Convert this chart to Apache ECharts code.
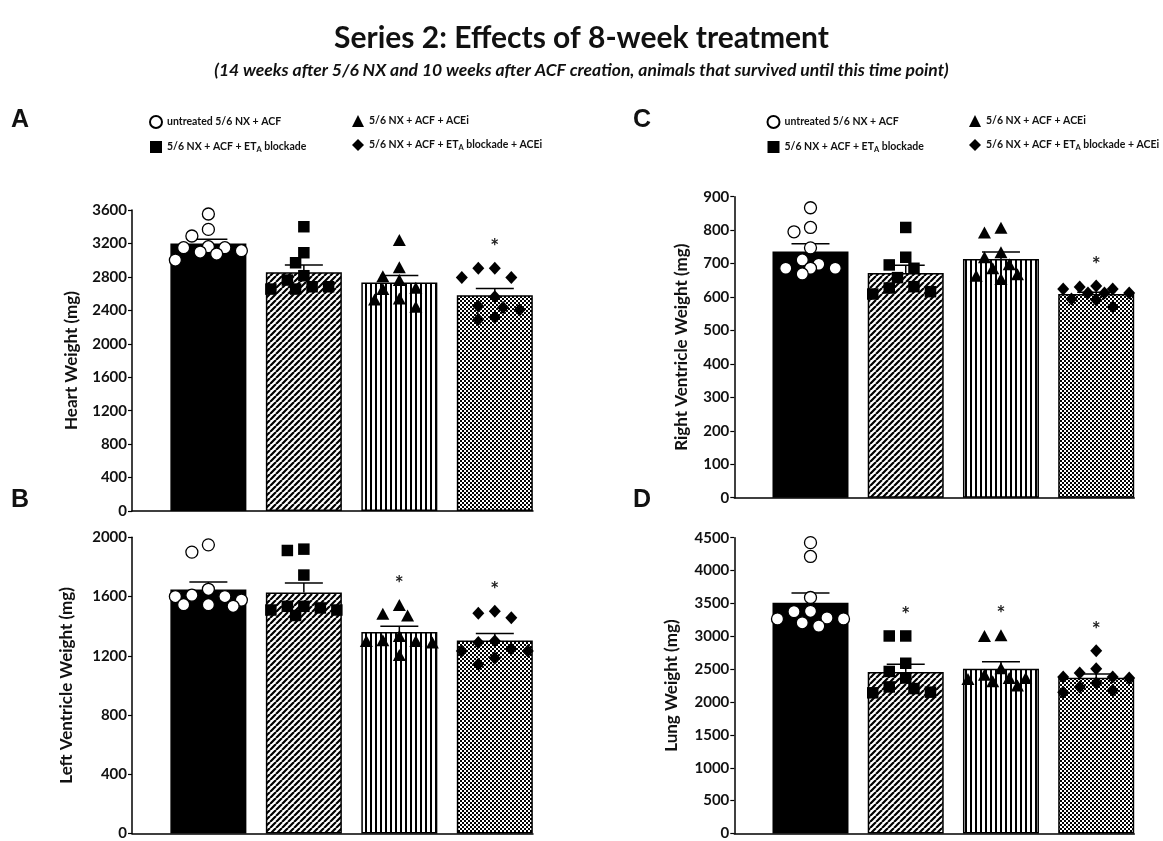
<!DOCTYPE html>
<html><head><meta charset="utf-8">
<script src="https://cdn.jsdelivr.net/npm/echarts@6/dist/echarts.min.js"></script>
<style>html,body{margin:0;padding:0;background:#fff}#c{width:1163px;height:841px}</style>
</head><body><div id="c"></div>
<script>
// ---------------- data ----------------
const groupNames = ['untreated 5/6 NX + ACF', '5/6 NX + ACF + ETA blockade', '5/6 NX + ACF + ACEi', '5/6 NX + ACF + ETA blockade + ACEi'];

const heartPoints = [
  [3552, 3368, 3289, 3161, 3149, 3149, 3113, 3097, 3073, 3001],
  [3400, 3089, 2969, 2814, 2762, 2682, 2682, 2654, 2654],
  [3241, 2914, 2809, 2762, 2670, 2654, 2542, 2530, 2443],
  [2902, 2902, 2794, 2794, 2562, 2450, 2434, 2403, 2315, 2291]
];
const heartMean = [3200, 2855, 2732, 2580];
const heartSem = [49, 86, 86, 82];
const heartSig = [0, 0, 0, 1];
const heartTicks = [0, 3600, 400];

const lvPoints = [
  [1949, 1900, 1649, 1609, 1600, 1600, 1576, 1545, 1545, 1534],
  [1920, 1911, 1745, 1534, 1534, 1523, 1509, 1509, 1472],
  [1543, 1483, 1472, 1334, 1305, 1299, 1299, 1290, 1205],
  [1501, 1487, 1456, 1299, 1290, 1245, 1232, 1232, 1183, 1143]
];
const lvMean = [1648, 1628, 1360, 1303];
const lvSem = [50, 63, 40, 47];
const lvSig = [0, 0, 1, 1];
const lvTicks = [0, 2000, 400];

const rvPoints = [
  [867, 808, 795, 747, 711, 698, 686, 686, 686, 669],
  [808, 719, 696, 686, 658, 631, 627, 616, 609],
  [807, 793, 734, 719, 698, 686, 668, 664, 654],
  [633, 630, 624, 624, 612, 612, 612, 594, 591, 570]
];
const rvMean = [736, 672, 714, 609];
const rvSem = [23, 23, 21, 5];
const rvSig = [0, 0, 0, 1];
const rvTicks = [0, 900, 100];

const lungPoints = [
  [4425, 4215, 3590, 3380, 3375, 3280, 3265, 3265, 3205, 3155],
  [3005, 3005, 2590, 2465, 2365, 2230, 2205, 2150, 2140],
  [3015, 3005, 2515, 2415, 2365, 2365, 2350, 2315, 2250],
  [2780, 2505, 2440, 2380, 2380, 2365, 2290, 2230, 2180, 2150]
];
const lungMean = [3510, 2458, 2508, 2368];
const lungSem = [147, 117, 103, 58];
const lungSig = [0, 1, 1, 1];
const lungTicks = [0, 4500, 500];

const axisNames = ['Heart Weight (mg)', 'Left Ventricle Weight (mg)', 'Right Ventricle Weight (mg)', 'Lung Weight (mg)'];
const panelLetters = ['A', 'B', 'C', 'D'];

// ---------------- layout / style ----------------
const FONT = 'Lato';
const panels = [
  { pts: heartPoints, mean: heartMean, sem: heartSem, sig: heartSig, ticks: heartTicks, name: axisNames[0], letter: panelLetters[0],
    grid: { left: 132, top: 210, width: 401, height: 301 }, nameGap: 52, letterPos: [11, 108] },
  { pts: lvPoints, mean: lvMean, sem: lvSem, sig: lvSig, ticks: lvTicks, name: axisNames[1], letter: panelLetters[1],
    grid: { left: 132, top: 537.3, width: 401, height: 300.4 }, nameGap: 57, letterPos: [11, 488] },
  { pts: rvPoints, mean: rvMean, sem: rvSem, sig: rvSig, ticks: rvTicks, name: axisNames[2], letter: panelLetters[2],
    grid: { left: 734.3, top: 196.7, width: 400, height: 301 }, nameGap: 44, letterPos: [633, 108] },
  { pts: lungPoints, mean: lungMean, sem: lungSem, sig: lungSig, ticks: lungTicks, name: axisNames[3], letter: panelLetters[3],
    grid: { left: 734.3, top: 537.7, width: 400, height: 300 }, nameGap: 54, letterPos: [633, 488] }
];

function makePattern(kind) {
  const c = document.createElement('canvas');
  const ctx = c.getContext('2d');
  if (kind === 'diag') {
    const s = 6; c.width = s; c.height = s;
    ctx.fillStyle = '#fff'; ctx.fillRect(0, 0, s, s);
    ctx.strokeStyle = '#000'; ctx.lineWidth = 2.2;
    ctx.beginPath();
    for (const x0 of [-s, 0, s]) { ctx.moveTo(x0, s); ctx.lineTo(x0 + s, 0); }
    ctx.stroke();
  } else if (kind === 'vert') {
    c.width = 5; c.height = 5;
    ctx.fillStyle = '#fff'; ctx.fillRect(0, 0, 5, 5);
    ctx.fillStyle = '#000'; ctx.fillRect(0, 0, 2, 5);
  } else {
    c.width = 4; c.height = 4;
    ctx.fillStyle = '#fff'; ctx.fillRect(0, 0, 4, 4);
    ctx.fillStyle = '#000'; ctx.fillRect(0, 0, 2, 2); ctx.fillRect(2, 2, 2, 2);
  }
  return { image: c, repeat: 'repeat' };
}
const barFills = ['#000', makePattern('diag'), makePattern('vert'), makePattern('check')];
const symbols = ['circle', 'rect', 'triangle', 'diamond'];
const symbolSizes = [12, 11.5, [13, 12], [12, 13]];
const symbolFill = ['#fff', '#000', '#000', '#000'];

const chart = echarts.init(document.getElementById('c'), null, { renderer: 'canvas' });

function buildSeries(scatterData) {
  const series = [];
  panels.forEach((p, pi) => {
    series.push({
      type: 'bar', name: 'bars' + pi, xAxisIndex: pi, yAxisIndex: pi, barWidth: 76, z: 2,
      data: p.mean.map((m, g) => ({ value: [g, m], itemStyle: { color: barFills[g], borderColor: '#000', borderWidth: 1.5 } }))
    });
    series.push({
      type: 'custom', name: 'err' + pi, xAxisIndex: pi, yAxisIndex: pi, z: 3,
      encode: { x: 0, y: 1 },
      data: p.mean.map((m, g) => [g, m, p.sem[g]]),
      renderItem: (params, api) => {
        const x = api.value(0), m = api.value(1), s = api.value(2);
        const b = api.coord([x, m]), t = api.coord([x, m + s]);
        return { type: 'group', children: [
          { type: 'line', shape: { x1: b[0], y1: b[1], x2: t[0], y2: t[1] }, style: { stroke: '#000', lineWidth: 1.5 } },
          { type: 'line', shape: { x1: t[0] - 19, y1: t[1], x2: t[0] + 19, y2: t[1] }, style: { stroke: '#000', lineWidth: 1.5 } }
        ] };
      }
    });
    series.push({
      type: 'custom', name: 'sig' + pi, xAxisIndex: pi, yAxisIndex: pi, z: 4,
      encode: { x: 0, y: 1 },
      data: p.sig.map((s, g) => s ? [g, Math.max.apply(null, p.pts[g])] : null).filter(d => d),
      renderItem: (params, api) => {
        const c = api.coord([api.value(0), api.value(1)]);
        return { type: 'text', x: c[0], y: c[1] - 21,
          style: { text: '*', fill: '#222', fontSize: 21, fontWeight: 'bold', fontFamily: FONT, align: 'center', verticalAlign: 'middle' } };
      }
    });
    p.pts.forEach((vals, g) => {
      series.push({
        type: 'scatter', name: groupNames[g], xAxisIndex: pi, yAxisIndex: pi, z: 5,
        symbol: symbols[g], symbolSize: symbolSizes[g],
        itemStyle: { color: symbolFill[g], borderColor: '#000', borderWidth: g === 0 ? 1.3 : 0, opacity: 1 },
        data: scatterData ? scatterData[pi][g] : vals.map(v => [g, v])
      });
    });
  });
  return series;
}

const legendText = {
  fontFamily: FONT, fontWeight: 'bold', fontSize: 10.5, color: '#111',
  rich: { sub: { fontFamily: FONT, fontWeight: 'bold', fontSize: 7.5, color: '#111', verticalAlign: 'bottom', padding: [6, 0, 0, 0] } }
};
function legendAt(left, names) {
  return { orient: 'vertical', left: left, top: 115, padding: 0, itemGap: 12, itemWidth: 12, itemHeight: 12,
    data: names, selectedMode: false, textStyle: legendText,
    formatter: n => n.replace('ETA', 'ET{sub|A}') };
}

const option = {
  animation: false,
  backgroundColor: '#fff',
  title: {
    text: 'Series 2: Effects of 8-week treatment',
    subtext: '(14 weeks after 5/6 NX and 10 weeks after ACF creation, animals that survived until this time point)',
    left: 'center', top: 18, itemGap: 8,
    textStyle: { fontFamily: FONT, fontWeight: 'bold', fontSize: 30, color: '#111' },
    subtextStyle: { fontFamily: FONT, fontWeight: 'bold', fontStyle: 'italic', fontSize: 17.5, color: '#111' }
  },
  legend: [
    legendAt(149, [groupNames[0], groupNames[1]]),
    legendAt(352, [groupNames[2], groupNames[3]]),
    legendAt(766.5, [groupNames[0], groupNames[1]]),
    legendAt(969, [groupNames[2], groupNames[3]])
  ],
  graphic: panels.map(p => ({ type: 'text', left: p.letterPos[0], top: p.letterPos[1],
    style: { text: p.letter, fontFamily: 'Liberation Sans', fontWeight: 'bold', fontSize: 25, fill: '#111' } })),
  grid: panels.map(p => Object.assign({ containLabel: false }, p.grid)),
  xAxis: panels.map((p, pi) => ({
    type: 'value', gridIndex: pi, min: -0.8, max: 3.4,
    axisLine: { show: true, onZero: false, lineStyle: { color: '#000', width: 1.5 } },
    axisTick: { show: false }, axisLabel: { show: false }, splitLine: { show: false }
  })),
  yAxis: panels.map((p, pi) => ({
    type: 'value', gridIndex: pi, min: p.ticks[0], max: p.ticks[1], interval: p.ticks[2],
    name: p.name, nameLocation: 'middle', nameGap: p.nameGap,
    nameTextStyle: { fontFamily: FONT, fontWeight: 'bold', fontSize: 17, color: '#111' },
    axisLine: { show: true, onZero: false, lineStyle: { color: '#000', width: 1.5 } },
    axisTick: { show: true, inside: false, length: 4, lineStyle: { color: '#000', width: 1.2 } },
    axisLabel: { fontFamily: FONT, fontWeight: 'bold', fontSize: 15, color: '#111', margin: 5, formatter: v => String(v) },
    splitLine: { show: false }
  })),
  series: buildSeries(null)
};
chart.setOption(option);

// Beeswarm placement of dots (kept within the bar) using the library's pixel scale
const STEP = 8.25, DMIN = 12.5, MAXOFF = 33;
const swarmData = panels.map((p, pi) => {
  const finder = { gridIndex: pi };
  const pxPerUnit = chart.convertToPixel(finder, [1, 0])[0] - chart.convertToPixel(finder, [0, 0])[0];
  return p.pts.map((vals, g) => {
    const order = vals.map((v, i) => i).sort((a, b) => vals[b] - vals[a]);
    const placed = [];
    const xs = new Array(vals.length);
    for (const i of order) {
      const py = chart.convertToPixel(finder, [0, vals[i]])[1];
      let off = null, best = 0, bestD = -1;
      for (let k = 0; ; k++) {
        const cand = k === 0 ? 0 : (k % 2 ? -1 : 1) * Math.ceil(k / 2) * STEP;
        if (Math.abs(cand) > MAXOFF + 0.01) break;
        const d = placed.length ? Math.min.apply(null, placed.map(q => Math.hypot(q[0] - cand, q[1] - py))) : Infinity;
        if (d >= DMIN) { off = cand; break; }
        if (d > bestD) { bestD = d; best = cand; }
      }
      if (off === null) off = best;
      placed.push([off, py]);
      xs[i] = g + off / pxPerUnit;
    }
    return vals.map((v, i) => [xs[i], v]);
  });
});
chart.setOption({ series: buildSeries(swarmData) });
</script>
</body></html>
